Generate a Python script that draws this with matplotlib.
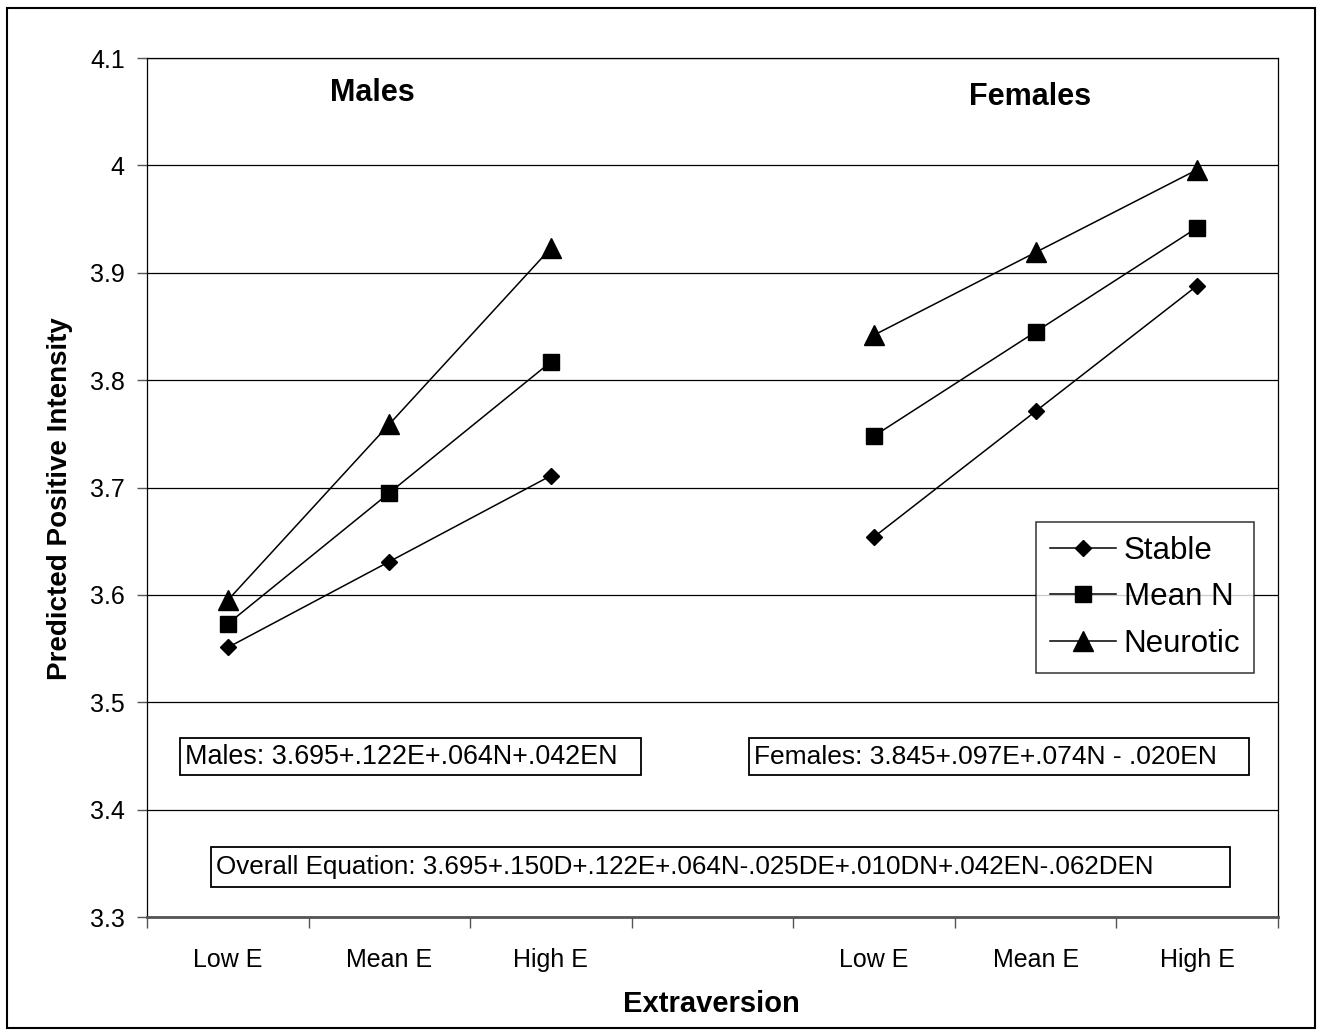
import matplotlib
matplotlib.use("Agg")
import matplotlib.pyplot as plt
from matplotlib.patches import Rectangle
from matplotlib.lines import Line2D

plt.rcParams['font.family'] = ['Liberation Sans', 'DejaVu Sans']

categories = ["Low E", "Mean E", "High E", "", "Low E", "Mean E", "High E"]
series_names = ["Stable", "Mean N", "Neurotic"]
males_stable = [3.551, 3.631, 3.711]
males_mean = [3.573, 3.695, 3.817]
males_neurotic = [3.595, 3.759, 3.923]
females_stable = [3.654, 3.771, 3.888]
females_mean = [3.748, 3.845, 3.942]
females_neurotic = [3.842, 3.919, 3.996]
y_ticks = [3.3, 3.4, 3.5, 3.6, 3.7, 3.8, 3.9, 4.0, 4.1]
y_tick_labels = ["3.3", "3.4", "3.5", "3.6", "3.7", "3.8", "3.9", "4", "4.1"]
eq_males = "Males: 3.695+.122E+.064N+.042EN"
eq_females = "Females: 3.845+.097E+.074N - .020EN"
eq_overall = "Overall Equation: 3.695+.150D+.122E+.064N-.025DE+.010DN+.042EN-.062DEN"

W, H = 1322, 1036
fig = plt.figure(figsize=(W / 100, H / 100), dpi=100)

def fx(px):
    return px / W

def fy(py):
    return 1 - py / H

ax = fig.add_axes([fx(147), fy(917), fx(1278) - fx(147), fy(58) - fy(917)])

male_idx = [0, 1, 2]
female_idx = [4, 5, 6]
styles = [("D", 8.6), ("s", 11.5), ("^", 15)]
male_data = [males_stable, males_mean, males_neurotic]
female_data = [females_stable, females_mean, females_neurotic]
for (mk, ms), md, fd in zip(styles, male_data, female_data):
    ax.plot(male_idx, md, color="black", lw=1.1, marker=mk, ms=ms, mfc="black", mec="black", zorder=3)
    ax.plot(female_idx, fd, color="black", lw=1.1, marker=mk, ms=ms, mfc="black", mec="black", zorder=3)

ax.set_xlim(-0.5, 6.5)
ax.set_ylim(3.3, 4.1)
ax.set_yticks(y_ticks)
ax.set_yticklabels(y_tick_labels, fontsize=18)
ax.yaxis.grid(True, color="black", lw=0.9)
ax.set_axisbelow(True)
ax.tick_params(axis="y", direction="out", length=7, width=1, color="#555555", pad=9)

ax.set_xticks(range(len(categories)))
ax.set_xticklabels(categories, fontsize=18)
ax.set_xticks([i - 0.5 for i in range(len(categories) + 1)], minor=True)
ax.tick_params(axis="x", which="major", length=0, pad=22)
ax.tick_params(axis="x", which="minor", direction="out", length=8, width=1, color="#555555")

for s in ["left", "right", "top"]:
    ax.spines[s].set_color("black")
    ax.spines[s].set_linewidth(0.9)
ax.spines["bottom"].set_color("#555555")
ax.spines["bottom"].set_linewidth(2)

fig.text(fx(711), fy(1004), "Extraversion", fontsize=21, fontweight="bold", ha="center", va="center")
fig.text(fx(60), fy(499), "Predicted Positive Intensity", fontsize=20, fontweight="bold",
         rotation=90, ha="center", va="center")

fig.text(fx(372), fy(93), "Males", fontsize=22, fontweight="bold", ha="center", va="center")
fig.text(fx(1030), fy(97), "Females", fontsize=22, fontweight="bold", ha="center", va="center")

def box(x0, y0, x1, y1, text, size):
    r = Rectangle((fx(x0), fy(y1)), fx(x1) - fx(x0), fy(y0) - fy(y1), transform=fig.transFigure,
                  fill=True, facecolor="white", edgecolor="black", lw=1.3, zorder=5)
    fig.add_artist(r)
    fig.text(fx(x0 + 5), fy((y0 + y1) / 2), text, fontsize=size, ha="left", va="center", zorder=6)

box(180, 738, 641, 775, eq_males, 19.4)
box(749, 738, 1249, 775, eq_females, 19.0)
box(211, 847, 1230, 887, eq_overall, 18.7)

handles = [Line2D([], [], color="black", lw=1.1, marker=mk, ms=ms, mfc="black", mec="black")
           for mk, ms in styles]
leg = ax.legend(handles, series_names, loc="upper left", bbox_to_anchor=(fx(1036), fy(522)),
                bbox_transform=fig.transFigure, fontsize=22.5, frameon=True, fancybox=False,
                handlelength=2.1, handletextpad=0.25, borderpad=0.45, labelspacing=0.52,
                borderaxespad=0)
leg.get_frame().set_edgecolor("black")
leg.get_frame().set_linewidth(1.1)

border = Rectangle((fx(7), fy(1028)), fx(1315) - fx(7), fy(8) - fy(1028), transform=fig.transFigure,
                   fill=False, edgecolor="black", lw=1.5)
fig.add_artist(border)

fig.savefig("out.png", dpi=100, facecolor="white")
